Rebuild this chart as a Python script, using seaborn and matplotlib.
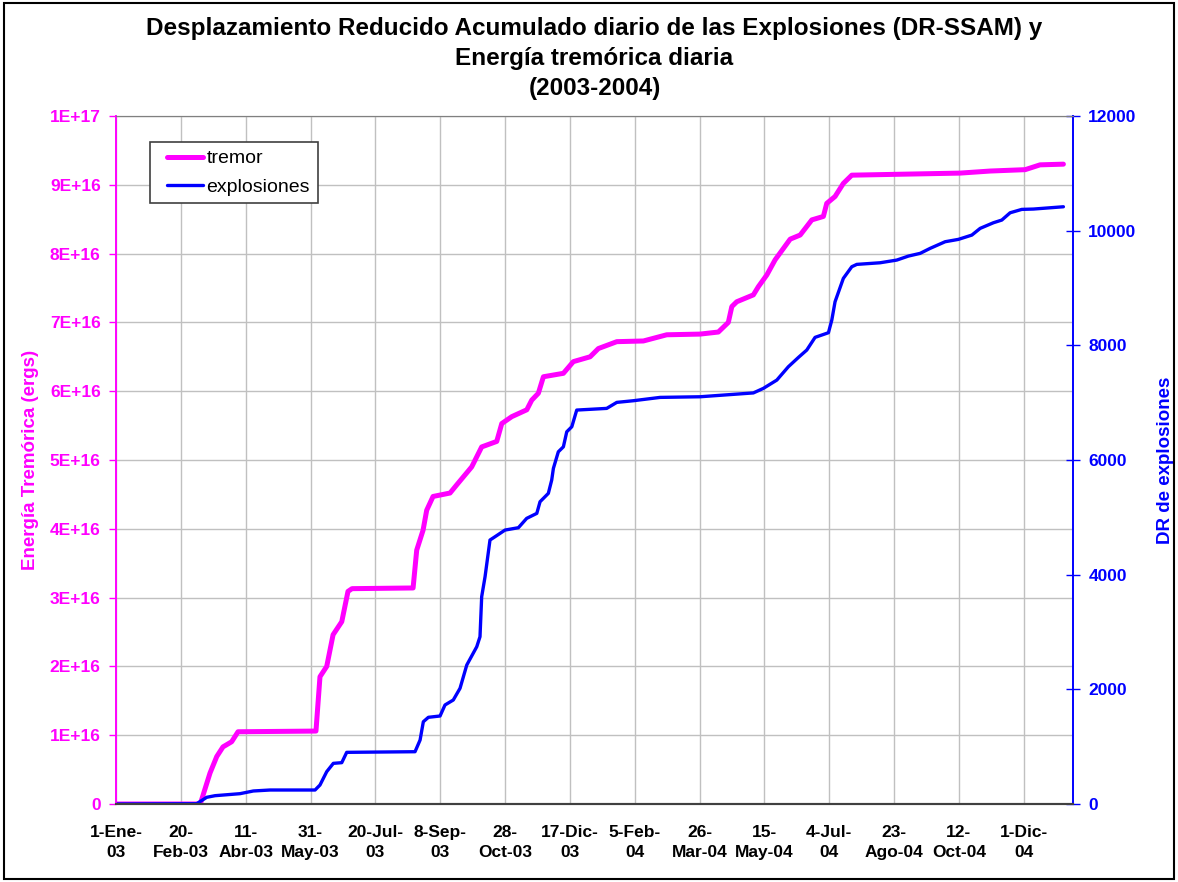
import matplotlib
matplotlib.use("Agg")
import matplotlib.pyplot as plt
import seaborn as sns
import pandas as pd
from matplotlib.patches import Rectangle
from matplotlib.legend_handler import HandlerLine2D

# =====================================================
# DATA (days since 1-Ene-03)
# =====================================================

tremor_days = [0, 65, 72.5, 77.7, 82.5, 89.2, 94.1, 154.2, 157.3, 162.5, 167.4,
               174.1, 178.9, 182, 229.1, 231.9, 236.8, 239.6, 244.5, 257.6,
               262.8, 274.3, 282.0, 293.6, 297.5, 305.2, 316.8, 320.6, 325.7,
               329.6, 345.0, 352.7, 365.6, 372.0, 386.2, 406.7, 424.7, 450.4,
               464.5, 472.2, 474.9, 478.7, 491.5, 495.4, 501.9, 508.3, 519.9,
               527.6, 536.6, 545.5, 548.1, 554.5, 560.9, 567.4, 650.9, 674.1,
               701.1, 712.6, 730.6]
tremor_e16 = [0, 0, 0.45, 0.69, 0.83, 0.905, 1.05, 1.06, 1.85, 2.0, 2.46,
              2.65, 3.09, 3.13, 3.14, 3.69, 3.98, 4.27, 4.47, 4.52,
              4.64, 4.90, 5.19, 5.27, 5.53, 5.63, 5.73, 5.87, 5.97,
              6.21, 6.26, 6.43, 6.50, 6.62, 6.72, 6.73, 6.82, 6.83,
              6.86, 7.0, 7.23, 7.30, 7.40, 7.52, 7.69, 7.91, 8.21,
              8.27, 8.49, 8.54, 8.73, 8.83, 9.02, 9.14, 9.17, 9.20,
              9.22, 9.29, 9.30]

expl_days = [0, 62.2, 70.0, 76.4, 95.6, 105.9, 118.8, 153.5, 157.3, 162.5,
             167.6, 174.1, 177.9, 230.6, 234.5, 237.0, 240.9, 249.9, 253.7,
             260.1, 265.3, 270.5, 278.2, 280.7, 282.0, 284.6, 288.4, 292.3,
             300.0, 310.3, 316.7, 324.5, 327.0, 333.4, 336.0, 337.3, 341.1,
             345.0, 347.6, 351.5, 355.3, 378.4, 386.2, 399.0, 419.6, 450.4,
             491.5, 499.2, 509.6, 518.5, 526.3, 532.7, 539.1, 549.4, 552.0,
             554.5, 560.9, 567.4, 571.3, 589.2, 602.1, 611.1, 620.1, 627.8,
             639.4, 649.6, 660.0, 666.4, 676.6, 683.1, 689.5, 698.5, 707.5,
             730.6]
expl_dr = [0, 5, 117, 145, 180, 227, 244, 244, 331, 564,
           709, 721, 901, 912, 1116, 1435, 1512, 1535, 1727,
           1814, 2018, 2424, 2743, 2918, 3616, 3964, 4604, 4662,
           4778, 4819, 4982, 5069, 5272, 5418, 5650, 5854, 6143,
           6230, 6492, 6580, 6871, 6900, 7005, 7034, 7092, 7103,
           7170, 7249, 7394, 7627, 7790, 7918, 8139, 8220, 8441,
           8760, 9168, 9371, 9412, 9440, 9487, 9557, 9604, 9691,
           9807, 9848, 9923, 10040, 10138, 10185, 10312, 10371, 10377,
           10417]

tick_days = [0, 50, 100, 150, 200, 250, 300, 350, 400, 450, 500, 550, 600, 650, 700]
tick_labels = ["1-Ene-\n03", "20-\nFeb-03", "11-\nAbr-03", "31-\nMay-03",
               "20-Jul-\n03", "8-Sep-\n03", "28-\nOct-03", "17-Dic-\n03",
               "5-Feb-\n04", "26-\nMar-04", "15-\nMay-04", "4-Jul-\n04",
               "23-\nAgo-04", "12-\nOct-04", "1-Dic-\n04"]
left_ticks = [i * 1e16 for i in range(11)]
left_labels = ["0"] + [f"{i}E+16" for i in range(1, 10)] + ["1E+17"]
right_ticks = [0, 2000, 4000, 6000, 8000, 10000, 12000]

tremor = pd.DataFrame({"dia": tremor_days, "energia": [v * 1e16 for v in tremor_e16]})
expl = pd.DataFrame({"dia": expl_days, "dr": expl_dr})

# =====================================================
# STYLE
# =====================================================

sns.set_style("white")
plt.rcParams["font.family"] = ["Liberation Sans", "DejaVu Sans"]
plt.rcParams["text.color"] = "black"
plt.rcParams["xtick.color"] = "black"

MAG = "#FF00FF"
BLUE = "#0000FF"

fig = plt.figure(figsize=(11.78, 8.82), dpi=100)
ax = fig.add_axes([116 / 1178, 1 - 804 / 882, (1073 - 116) / 1178, (804 - 116) / 882])
ax2 = ax.twinx()

# =====================================================
# LINES
# =====================================================

sns.lineplot(data=tremor, x="dia", y="energia", ax=ax, color=MAG,
             linewidth=3.6, label="tremor", legend=False)
sns.lineplot(data=expl, x="dia", y="dr", ax=ax2, color=BLUE,
             linewidth=2.4, label="explosiones", legend=False)

# =====================================================
# AXES
# =====================================================

ax.set_xlim(0, 738)
ax.set_ylim(0, 1e17)
ax2.set_ylim(0, 12000)

ax.set_xticks(tick_days)
ax.set_xticklabels(tick_labels, fontsize=12.5, fontweight="bold",
                   linespacing=1.45, color="black")
ax.set_yticks(left_ticks)
ax.set_yticklabels(left_labels, fontsize=12.5, fontweight="bold", color=MAG)
ax2.set_yticks(right_ticks)
ax2.set_yticklabels([str(v) for v in right_ticks], fontsize=12.5,
                    fontweight="bold", color=BLUE)

ax.grid(True, color="#C0C0C0", linewidth=1)
ax.set_axisbelow(True)

ax.tick_params(axis="x", direction="out", length=5, width=1, color="#404040", pad=10)
ax.tick_params(axis="y", direction="out", length=5, width=1, color=MAG, pad=6)
ax2.tick_params(axis="y", direction="inout", length=10, width=1, color=BLUE, pad=6)

for a in (ax, ax2):
    a.spines["top"].set_color("#808080")
    a.spines["bottom"].set_color("#404040")
    a.spines["bottom"].set_linewidth(1.5)
    a.spines["left"].set_color(MAG)
    a.spines["right"].set_color(BLUE)
    a.spines["left"].set_linewidth(1.2)
    a.spines["right"].set_linewidth(1.2)

ax.set_xlabel("")
ax.set_ylabel("Energía Tremórica (ergs)", fontsize=13.5, fontweight="bold",
              color=MAG, labelpad=8)
ax2.set_ylabel("DR de explosiones", fontsize=13.5, fontweight="bold",
               color=BLUE, labelpad=15)

ax.set_title("Desplazamiento Reducido Acumulado diario de las Explosiones (DR-SSAM) y\n"
             "Energía tremórica diaria\n(2003-2004)",
             fontsize=17.5, fontweight="bold", linespacing=1.4, pad=15,
             color="black")

# =====================================================
# LEGEND
# =====================================================

h1, l1 = ax.get_legend_handles_labels()
h2, l2 = ax2.get_legend_handles_labels()
leg = ax2.legend(h1 + h2, l1 + l2, loc="upper left",
                 bbox_to_anchor=(150 / 1178, 1 - 142 / 882),
                 bbox_transform=fig.transFigure, borderaxespad=0,
                 fontsize=14, fancybox=False, framealpha=1,
                 edgecolor="#404040", handlelength=2.3, handletextpad=0.2,
                 labelspacing=0.55, borderpad=0.4,
                 handler_map={h: HandlerLine2D(xpad=0.45) for h in h1 + h2})
leg.get_frame().set_linewidth(1.2)

fig.patches.append(Rectangle((0.003, 0.003), 0.994, 0.994, transform=fig.transFigure,
                             fill=False, edgecolor="black", linewidth=1.5))

plt.savefig("out.png", dpi=100)
